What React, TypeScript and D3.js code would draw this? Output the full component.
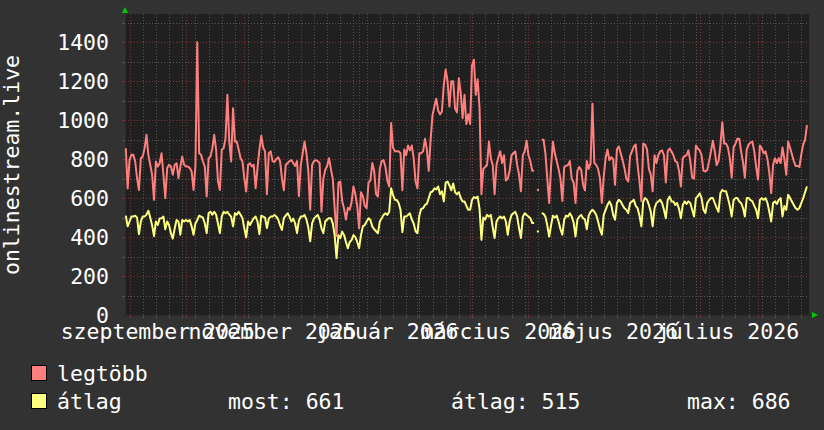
import React from 'react';
import * as d3 from 'd3';

const DAY = 86400000;
const dataStart = Date.UTC(2025, 7, 30);
const viewStart = Date.UTC(2025, 7, 29, 14);
const viewEnd = Date.UTC(2026, 7, 28, 2);

// "legtöbb" (max) daily values, null = no data
const maxValues: (number | null)[] = [
  856, 650, 796, 822, 822, 788, 702, 642, 805, 813,
  856, 925, 822, 771, 720, 591, 788, 762, 779, 830,
  720, 600, 754, 771, 762, 720, 771, 779, 702, 762,
  813, 771, 762, 762, 754, 737, 642, 762, 1400, 830,
  822, 788, 762, 608, 805, 813, 856, 925, 848, 685,
  642, 848, 856, 907, 1130, 890, 788, 1061, 890, 890,
  848, 805, 788, 702, 634, 771, 779, 762, 771, 651,
  754, 848,
  920, 860, 840, 620, 830, 840, 790, 785, 800, 810,
  790, 700, 640, 770, 780, 790, 795, 780, 765, 790,
  610, 770, 830, 890, 830, 740, 540, 770, 790, 795,
  790, 780, 530, 700, 745, 765, 805, 750, 700, 550,
  405, 680, 685, 585, 545, 490, 550, 540, 580, 660,
  620, 560, 445, 630, 610, 560, 548, 680, 690, 780,
  740, 620, 608, 750, 790, 795, 760, 690, 660, 985,
  860, 840, 840, 840,
  830, 640, 850, 820, 870, 845, 870, 805, 685, 650,
  830, 830, 840, 905, 850, 740, 900, 1025, 1070, 1110,
  1050, 1030, 1045, 1180, 1260, 1200, 1070, 1200, 1200, 1060,
  1040, 1215, 1140, 1010, 1130, 980, 1030, 980, 1280, 1310,
  1130, 1210, 1060, 620, 750, 760, 770, 890, 805, 770,
  620, 770, 810, 840, 780, 820, 690, 700, 740, 820,
  830, 840, 770, 720, 635, 820, 840, 895, 820, 790,
  740, 740,
  null, 642, null,
  900, 900, 830, 700, 575, 760, 890, 830, 790, 750,
  700, 585, 760, 765, 770, 790, 700, 680, 575, 740,
  760, 745, 670, 640, 790, 750, 780, 1085, 780, 770,
  750, 700, 575, 710, 805, 850, 795, 810, 800, 668,
  850, 865, 830, 795, 755, 700, 685, 815, 840, 865,
  875, 770, 685, 585, 880, 875, 850, 750, 720, 635,
  820, 780, 820, 840, 845, 820, 680, 840, 855, 840,
  820, 790,
  785, 740, 660, 805, 815, 820, 845, 790, 705, 700,
  870, 855, 845, 820, 740, 737, 745, 790, 840, 895,
  840, 770, 790, 870, 990, 880, 880, 860, 805, 705,
  860, 880, 905, 905, 840, 785, 705, 850, 875, 885,
  890, 840, 760, 695, 870, 855, 830, 840, 800, 730,
  625, 770, 805, 780, 805, 780, 860, 800, 720, 890,
  860, 825, 790, 765, 765, 760, 825, 875, 900, 975,
];

// "átlag" (average) daily values
const avgValues: (number | null)[] = [
  510, 455, 480, 505, 505, 510, 500, 415, 480, 505,
  505, 515, 535, 500, 460, 405, 480, 462, 495, 497,
  505, 440, 480, 462, 420, 392, 445, 488, 480, 412,
  488, 480, 488, 480, 488, 455, 412, 470, 488, 510,
  505, 500, 470, 420, 522, 530, 515, 530, 515, 470,
  420, 505, 530, 522, 530, 515, 505, 455, 522, 515,
  530, 515, 497, 445, 398, 480, 462, 480, 497, 505,
  480, 415,
  510, 505, 500, 446, 495, 505, 505, 514, 505, 490,
  460, 437, 497, 510, 522, 505, 480, 495, 470, 420,
  485, 505, 505, 514, 490, 450, 378, 470, 495, 505,
  514, 490, 445, 420, 480, 490, 497, 497, 470, 410,
  292, 410, 395, 428, 410, 375, 343, 375, 385, 410,
  400, 375, 343, 410, 455, 462, 480, 497, 488, 455,
  440, 430, 420, 480, 497, 514, 522, 514, 530, 651,
  617, 592, 590, 575,
  540, 425, 505, 505, 514, 522, 490, 470, 430, 420,
  510, 545, 548, 565, 570, 600, 630, 634, 650, 645,
  660, 620, 635, 583, 680, 685, 665, 640, 675, 630,
  620, 630, 600, 583, 583, 560, 540, 540, 590, 605,
  600, 608, 545, 386, 500, 490, 514, 505, 514, 450,
  395, 480, 497, 505, 497, 505, 480, 412, 480, 514,
  522, 530, 505, 445, 395, 505, 522, 514, 505, 497,
  472, 472,
  null, 429, null,
  523, 520, 505, 460, 403, 460, 510, 500, 510, 480,
  440, 412, 490, 510, 505, 522, 505, 475, 403, 490,
  505, 514, 497, 490, 440, 510, 530, 540, 530, 514,
  480, 440, 412, 514, 540, 565, 583, 565, 514, 489,
  575, 591, 583, 565, 548, 540, 523, 575, 583, 591,
  560, 548, 510, 455, 583, 600, 591, 565, 530, 455,
  548, 575, 583, 591, 575, 540, 497, 591, 608, 583,
  583, 565,
  575, 545, 497, 565, 583, 570, 583, 575, 540, 506,
  600, 610, 625, 600, 540, 523, 575, 590, 600, 600,
  575, 550, 530, 625, 642, 635, 635, 600, 560, 506,
  590, 600, 600, 583, 575, 550, 506, 600, 600, 590,
  583, 560, 540, 497, 591, 600, 591, 600, 575, 530,
  480, 575, 583, 570, 591, 600, 506, 560, 540, 617,
  600, 583, 565, 548, 540, 550, 575, 600, 630, 660,
];

const yTicks = [0, 200, 400, 600, 800, 1000, 1200, 1400];
const yMinorTicks = [100, 300, 500, 700, 900, 1100, 1300, 1500];
const monthNames = ['január', 'február', 'március', 'április', 'május', 'június', 'július',
  'augusztus', 'szeptember', 'október', 'november', 'december'];
const labelMonths: [number, number][] = [[2025, 8], [2025, 10], [2026, 0], [2026, 2], [2026, 4], [2026, 6]];
const axisTitle = 'onlinestream.live';
const seriesNames = ['legtöbb', 'átlag'];
const statTexts = ['most: 661', 'átlag: 515', 'max: 686'];

const COLORS = { max: '#ff7f7f', avg: '#ffff7f' };
const FONT = "'DejaVu Sans Mono', monospace";
const FS = 21.5;

const L = 125, R = 809, T = 14, B = 315;

export default function App() {
  const x = d3.scaleUtc().domain([viewStart, viewEnd]).range([L, R]);
  const y = d3.scaleLinear().domain([0, 1540]).range([B, 15]);

  const toPts = (arr: (number | null)[]) => arr.map((v, i) => ({ t: dataStart + i * DAY, v }));
  const maxPts = toPts(maxValues);
  const avgPts = toPts(avgValues);

  const line = d3.line<{ t: number; v: number | null }>()
    .defined(d => d.v != null)
    .x(d => x(d.t))
    .y(d => y(d.v as number));

  const isolated = (pts: { t: number; v: number | null }[]) =>
    pts.filter((p, i) => p.v != null && (i === 0 || pts[i - 1].v == null) && (i === pts.length - 1 || pts[i + 1].v == null));

  const months = d3.utcMonth.range(new Date(viewStart), new Date(viewEnd));
  const monthSet = new Set(months.map(m => +m));
  const weeks = d3.utcMonday.range(new Date(viewStart), new Date(viewEnd)).filter(w => !monthSet.has(+w));

  const minorColor = '#565656';
  const majorColor = '#7a3434';
  const dash = '1,2';

  return (
    <svg width={824} height={430} style={{ position: 'absolute', left: 0, top: 0, display: 'block' }}
      fontFamily={FONT} fontSize={FS}>
      <rect x={0} y={0} width={824} height={430} fill="#323232" />
      <rect x={L} y={T} width={R - L} height={B - T} fill="#202020" />

      {/* horizontal grid */}
      {yMinorTicks.map(v => (
        <line key={'hm' + v} x1={L} x2={R} y1={Math.round(y(v)) + 0.5} y2={Math.round(y(v)) + 0.5}
          stroke={minorColor} strokeDasharray={dash} />
      ))}
      {yTicks.map(v => (
        <line key={'hM' + v} x1={L} x2={R} y1={Math.round(y(v)) + 0.5} y2={Math.round(y(v)) + 0.5}
          stroke={majorColor} strokeDasharray={dash} />
      ))}
      {/* vertical grid */}
      {weeks.map(w => (
        <line key={'vw' + +w} x1={Math.round(x(w)) + 0.5} x2={Math.round(x(w)) + 0.5} y1={T} y2={B}
          stroke={minorColor} strokeDasharray={dash} />
      ))}
      {months.map(m => (
        <line key={'vm' + +m} x1={Math.round(x(m)) + 0.5} x2={Math.round(x(m)) + 0.5} y1={T} y2={B}
          stroke={majorColor} strokeDasharray={dash} />
      ))}
      {/* small ticks */}
      {weeks.map(w => (
        <line key={'tw' + +w} x1={Math.round(x(w)) + 0.5} x2={Math.round(x(w)) + 0.5} y1={B} y2={B + 3} stroke={minorColor} />
      ))}
      {months.map(m => (
        <line key={'tm' + +m} x1={Math.round(x(m)) + 0.5} x2={Math.round(x(m)) + 0.5} y1={B} y2={B + 3} stroke={majorColor} />
      ))}
      {yMinorTicks.map(v => (
        <line key={'ty' + v} x1={L - 3} x2={L} y1={Math.round(y(v)) + 0.5} y2={Math.round(y(v)) + 0.5} stroke={minorColor} />
      ))}
      {yTicks.map(v => (
        <line key={'tY' + v} x1={L - 3} x2={L} y1={Math.round(y(v)) + 0.5} y2={Math.round(y(v)) + 0.5} stroke={majorColor} />
      ))}

      {/* axes */}
      <line x1={L - 3} x2={813} y1={B + 0.5} y2={B + 0.5} stroke="#2c2c2c" />
      <line x1={L + 0.5} x2={L + 0.5} y1={B + 3} y2={12} stroke="#2c2c2c" />
      <polygon points={`${L - 3},13 ${L + 3},13 ${L},7`} fill="#00cc00" />
      <polygon points={`812,${B - 3} 812,${B + 3} 818,${B}`} fill="#00cc00" />

      {/* data */}
      <path d={line(maxPts) || ''} fill="none" stroke={COLORS.max} strokeWidth={2} strokeLinejoin="round" />
      <path d={line(avgPts) || ''} fill="none" stroke={COLORS.avg} strokeWidth={2} strokeLinejoin="round" />
      {isolated(maxPts).map(p => (
        <rect key={'im' + p.t} x={x(p.t) - 1} y={y(p.v as number) - 1} width={2} height={2} fill={COLORS.max} />
      ))}
      {isolated(avgPts).map(p => (
        <rect key={'ia' + p.t} x={x(p.t) - 1} y={y(p.v as number) - 1} width={2} height={2} fill={COLORS.avg} />
      ))}

      {/* y tick labels */}
      {yTicks.map(v => (
        <text key={'yl' + v} x={109} y={y(v) + 7.7} fill="#ffffff" textAnchor="end">{v}</text>
      ))}
      {/* x labels */}
      {labelMonths.map(([yr, mo]) => {
        const t = Date.UTC(yr, mo, 1) + 15 * DAY;
        return (
          <text key={'xl' + yr + mo} x={x(t)} y={338.5} fill="#ffffff" textAnchor="middle">
            {monthNames[mo] + ' ' + yr}
          </text>
        );
      })}
      {/* axis title */}
      <text transform="translate(18.5,165) rotate(-90)" fill="#ffffff" textAnchor="middle">{axisTitle}</text>

      {/* legend */}
      <rect x={31.5} y={365.5} width={15} height={15} fill={COLORS.max} stroke="#000" />
      <text x={57} y={381} fill="#ffffff">{seriesNames[0]}</text>
      <rect x={31.5} y={393.5} width={15} height={15} fill={COLORS.avg} stroke="#000" />
      <text x={57} y={409} fill="#ffffff">{seriesNames[1]}</text>
      <text x={228} y={409} fill="#ffffff">{statTexts[0]}</text>
      <text x={451} y={409} fill="#ffffff">{statTexts[1]}</text>
      <text x={687} y={409} fill="#ffffff">{statTexts[2]}</text>
    </svg>
  );
}
